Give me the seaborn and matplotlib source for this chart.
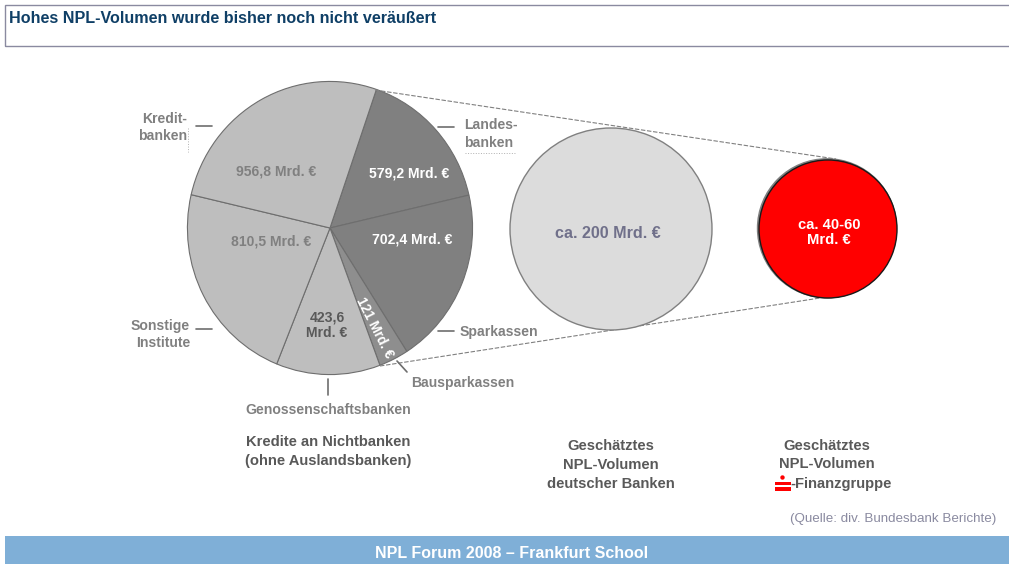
import matplotlib
matplotlib.use("Agg")
import matplotlib.pyplot as plt
import seaborn as sn
from matplotlib.patches import Rectangle, Circle

# Kredite an Nichtbanken, Mrd. Euro (im Uhrzeigersinn ab Landesbanken)
gruppen = ["Landesbanken", "Sparkassen", "Bausparkassen", "Genossenschaftsbanken", "Sonstige Institute", "Kreditbanken"]
volumen = [579.2, 702.4, 121, 423.6, 810.5, 956.8]
volumen_text = ["579,2 Mrd. €", "702,4 Mrd. €", "121 Mrd. €", "423,6\nMrd. €", "810,5 Mrd. €", "956,8 Mrd. €"]
npl_deutsch = [200]
npl_sfg = [50]

sn.set_style("white")
plt.rcParams['font.family'] = ['Liberation Sans', 'DejaVu Sans']

W, H = 1009, 564
fig = plt.figure(figsize=(W / 100, H / 100), dpi=100)

# Die grosse Torte ist im Original leicht gestreckt, daher eigene Achse
axPie = fig.add_axes([187 / W, (H - 375) / H, 286 / W, 294 / H], zorder=0)
ax = fig.add_axes([0, 0, 1, 1], zorder=1)


def Y(y):
    # Pixel von oben nach Achsenkoordinate
    return H - y


def txt(x, y, s, size=10.1, color="#808080", weight="bold", ha="center", zorder=6, ls=1.3):
    ax.text(x, Y(y), s, fontsize=size, color=color, fontweight=weight, ha=ha, va="center",
            zorder=zorder, linespacing=ls)


def strich(x0, y0, x1, y1, color="#6e6e6e", lw=1.2, ls="-", zorder=3):
    ax.plot([x0, x1], [Y(y0), Y(y1)], color=color, lw=lw, ls=ls, zorder=zorder)


hell = sn.color_palette(["#bebebe"])[0]
dunkel = sn.color_palette(["#808080"])[0]
farben = [dunkel, dunkel, "#8e8e8e", hell, hell, hell]

axPie.pie(volumen, colors=farben, startangle=71, counterclock=False, radius=1, frame=True,
          wedgeprops={"edgecolor": "#6e6e6e", "linewidth": 0.8})
axPie.set_xlim(-1.003, 1.003)
axPie.set_ylim(-1.003, 1.003)
axPie.set_aspect("auto")
axPie.axis("off")

# Verbindungslinien hinter den Kreisen
strich(375, 90, 836, 159, color="#808080", lw=0.8, ls=(0, (4, 1.5)), zorder=1)
strich(380, 366, 820, 298, color="#808080", lw=0.8, ls=(0, (4, 1.5)), zorder=1)

ax.pie(npl_deutsch, colors=["#dcdcdc"], startangle=90, center=(611, Y(229)), radius=101,
       frame=True, wedgeprops={"edgecolor": "#808080", "linewidth": 1.0, "zorder": 2})
ax.add_patch(Circle((827, Y(228.3)), 69.5, fc="#808080", ec="#808080", lw=1, zorder=2))
ax.pie(npl_sfg, colors=["#ff0000"], startangle=90, center=(828, Y(229)), radius=69,
       frame=True, wedgeprops={"edgecolor": "#1a1a1a", "linewidth": 1.0, "zorder": 3})

ax.set_xlim(0, W)
ax.set_ylim(0, H)
ax.set_aspect("auto")
ax.axis("off")

# Kopf und Fusszeile
ax.add_patch(Rectangle((5, Y(46)), W + 10, 41, fc="none", ec="#8a8aa0", lw=1.0, zorder=1))
txt(9, 18.5, "Hohes NPL-Volumen wurde bisher noch nicht veräußert", size=11.6, color="#0f3f66", ha="left")
ax.add_patch(Rectangle((5, 0), W, H - 536, fc="#7fafd7", ec="none", zorder=1))
txt(512, 553.5, "NPL Forum 2008 – Frankfurt School", size=11.5, color="white")
txt(996, 519, "(Quelle: div. Bundesbank Berichte)", size=9.6, color="#8a8aa0", weight="normal", ha="right")

# Werte in den Kreisen
wert_pos = [(409, 174, "white", 0), (412, 240, "white", 0), (375, 328, "white", -63),
            (327, 325.5, "#595959", 0), (271, 242, "#808080", 0), (276, 171, "#808080", 0)]
for s, (x, y, c, r) in zip(volumen_text, wert_pos):
    if r:
        ax.text(x, Y(y), s, fontsize=9.8, color=c, fontweight="bold", ha="center", va="center",
                rotation=r, zorder=6)
    else:
        txt(x, y, s, color=c, ls=1.1)

txt(608, 233, "ca. 200 Mrd. €", size=11.6, color="#70708a")
txt(829, 232.5, "ca. 40-60\nMrd. €", size=10.6, color="white", ls=1.05)

# Beschriftung der Segmente
txt(187, 127.5, "Kredit-\nbanken", ha="right")
txt(464, 134, "Landes-\nbanken", ha="left")
txt(190, 334.5, "Sonstige\nInstitute", ha="right")
txt(460, 332, "Sparkassen", ha="left")
txt(463, 383, "Bausparkassen")
txt(328, 410, "Genossenschaftsbanken")

strich(196, 126, 212, 126)
strich(438, 127, 454, 127)
strich(196, 329, 212, 329)
strich(438, 331, 454, 331)
strich(328, 379, 328, 395)
strich(397, 361, 407, 372)
strich(188, 128, 188, 152, color="#b0b0b0", lw=0.7, ls=":")
strich(465, 153, 516, 153, color="#b0b0b0", lw=0.7, ls=":")

# Unterschriften
txt(328, 451.5, "Kredite an Nichtbanken\n(ohne Auslandsbanken)", size=10.65, color="#595959", ls=1.45)
txt(611, 465, "Geschätztes\nNPL-Volumen\ndeutscher Banken", size=10.65, color="#595959", ls=1.45)
txt(827, 455, "Geschätztes\nNPL-Volumen", size=10.65, color="#595959", ls=1.45)
txt(790, 484, "-Finanzgruppe", size=10.65, color="#595959", ha="left")

# S-Logo
ax.add_patch(Circle((782.5, Y(477.5)), 2.2, fc="#ff0000", ec="none", zorder=6))
ax.add_patch(Rectangle((775, Y(485.2)), 15.5, 3.6, fc="#ff0000", ec="none", zorder=6))
ax.add_patch(Rectangle((775, Y(491)), 15.5, 4.2, fc="#ff0000", ec="none", zorder=6))

fig.savefig("out.png", dpi=100, facecolor="white")
